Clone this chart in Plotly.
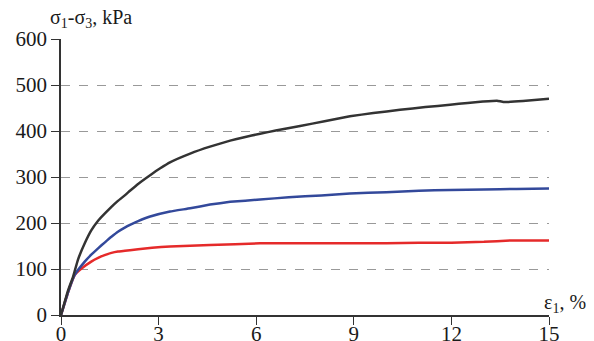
import plotly.graph_objects as go

# strain, %
black_x = [0, 0.22, 0.37, 0.52, 0.73, 0.93, 1.14, 1.35, 1.55, 1.75, 1.96, 2.12, 2.37, 2.74, 3.05, 3.35, 3.97,
           4.58, 5.2, 5.6, 6.12, 6.6, 7.35, 8.1, 8.88, 9.6, 10.42, 11.2, 11.96, 12.5, 12.97, 13.4, 13.6,
           14.2, 15]
black_y = [0, 54, 83, 120, 156, 184, 205, 221, 235, 248, 260, 270, 285, 304, 319, 332, 351,
           366, 379, 386, 394, 401, 411, 421, 432, 439, 446, 452, 457, 461, 464, 466, 463,
           465, 470]

blue_x = [0, 0.22, 0.42, 0.73, 0.93, 1.14, 1.35, 1.55, 1.75, 1.96, 2.12, 2.37, 2.74, 3.35, 3.97, 4.58,
          5.2, 6.12, 7.0, 8.0, 8.88, 10, 11, 11.96, 13, 14, 15]
blue_y = [0, 50, 87, 116, 131, 145, 158, 170, 181, 190, 196, 204, 214, 225, 232, 240,
          246, 251, 256, 260, 264, 267, 270, 272, 273, 274, 275]

red_x = [0, 0.22, 0.42, 0.63, 0.93, 1.14, 1.34, 1.55, 1.75, 2.12, 2.37, 2.8, 3.35, 4.58, 6.12, 7, 8, 9,
         10, 11, 12, 13, 13.8, 15]
red_y = [0, 50, 87, 101, 116, 124, 130, 135, 138, 141, 143, 146, 149, 152, 156, 156, 156, 156,
         156, 157, 157, 159, 162, 162]

x_ticks = [0, 3, 6, 9, 12, 15]
y_ticks = [0, 100, 200, 300, 400, 500, 600]

FONT = "Liberation Serif, Times New Roman, serif"
TXT = "#1a1a1a"

fig = go.Figure()
for xs, ys, col in [(red_x, red_y, "#e52a2a"), (blue_x, blue_y, "#33499b"), (black_x, black_y, "#333333")]:
    fig.add_trace(go.Scatter(x=xs, y=ys, mode="lines", line=dict(color=col, width=2.5, shape="spline", smoothing=0.3),
                             showlegend=False, hoverinfo="skip"))

# page has an 8px body margin, so the figure is 8px smaller than the window
fig.update_layout(
    width=586, height=333,
    margin=dict(l=53, r=45, t=31, b=26),
    paper_bgcolor="white", plot_bgcolor="white",
    font=dict(family=FONT, size=20, color=TXT),
)
fig.update_xaxes(range=[0, 15], tickvals=x_ticks, ticks="outside", ticklen=8, tickwidth=1.2,
                 tickcolor="#333333", showline=True, linecolor="#333333", linewidth=1.5,
                 showgrid=False, zeroline=False, automargin=False, ticklabelstandoff=-9,
                 tickfont=dict(family=FONT, size=21, color=TXT))
fig.update_yaxes(range=[0, 600], tickvals=y_ticks, ticks="outside", ticklen=8, tickwidth=1.2,
                 tickcolor="#333333", showline=True, linecolor="#333333", linewidth=1.5,
                 showgrid=True, gridcolor="#999999", griddash="dash", gridwidth=1,
                 zeroline=False, automargin=False,
                 tickfont=dict(family=FONT, size=21, color=TXT))

fig.add_annotation(text="σ<sub>1</sub>-σ<sub>3</sub>, kPa", xref="paper", yref="paper",
                   x=-0.027, y=1.0, xanchor="left", yanchor="bottom", showarrow=False,
                   font=dict(family=FONT, size=20, color=TXT), yshift=6)
fig.add_annotation(text="ε<sub>1</sub>, %", xref="paper", yref="paper",
                   x=1.08, y=0.0, xanchor="right", yanchor="bottom", showarrow=False,
                   font=dict(family=FONT, size=20, color=TXT), yshift=-3)

fig.write_html("out.html")
